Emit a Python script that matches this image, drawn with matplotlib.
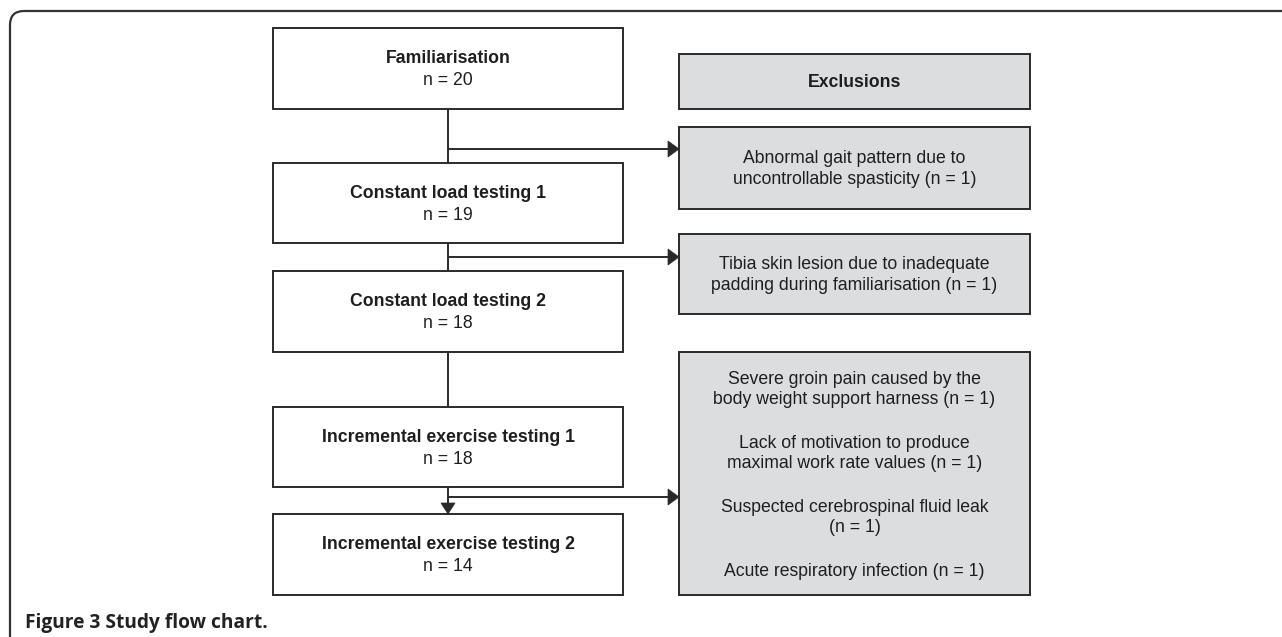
import matplotlib
matplotlib.use("Agg")
import matplotlib.pyplot as plt
from matplotlib.patches import Rectangle, FancyBboxPatch, Polygon

# Flow stages (left column) and participant counts
stages = ["Familiarisation", "Constant load testing 1", "Constant load testing 2",
          "Incremental exercise testing 1", "Incremental exercise testing 2"]
counts = [20, 19, 18, 18, 14]

# Exclusion boxes (right column)
exclusion_header = "Exclusions"
exclusions = [
    ["Abnormal gait pattern due to\nuncontrollable spasticity (n = 1)"],
    ["Tibia skin lesion due to inadequate\npadding during familiarisation (n = 1)"],
    ["Severe groin pain caused by the\nbody weight support harness (n = 1)",
     "Lack of motivation to produce\nmaximal work rate values (n = 1)",
     "Suspected cerebrospinal fluid leak\n(n = 1)",
     "Acute respiratory infection (n = 1)"],
]
caption = "Figure 3 Study flow chart."

# layout (pixels)
W, H = 1282, 637
stage_x = (273, 623)
stage_y = [(28, 109), (163, 243), (271, 352), (407, 487), (514, 595)]
excl_x = (679, 1030)
header_y = (54, 109)
excl_y = [(127, 209), (234, 314), (352, 595)]
arrow_y = [149, 257, 497]

edge = "#2a2a2a"
grey = "#dcdddf"
txt = "#1e1e1e"
font = "Liberation Sans"
fs = 12.7
lw = 1.4
ls = 1.3

fig = plt.figure(figsize=(W / 100, H / 100), dpi=100)
ax = fig.add_axes([0, 0, 1, 1])
ax.set_xlim(0, W)
ax.set_ylim(H, 0)
ax.axis("off")

# outer rounded frame
frame = FancyBboxPatch((10, 11), W + 40, H + 40, boxstyle="round,pad=0,rounding_size=14",
                       fc="none", ec="#333333", lw=1.6)
ax.add_patch(frame)

def box(x0, x1, y0, y1, fc):
    ax.add_patch(Rectangle((x0, y0), x1 - x0, y1 - y0, fc=fc, ec=edge, lw=lw, zorder=2))

cx = (stage_x[0] + stage_x[1]) / 2
ex = (excl_x[0] + excl_x[1]) / 2

# stage boxes
for i, (name, n) in enumerate(zip(stages, counts)):
    y0, y1 = stage_y[i]
    box(stage_x[0], stage_x[1], y0, y1, "white")
    ym = (y0 + y1) / 2
    ax.text(cx, ym - 10, name, ha="center", va="center", fontsize=fs, fontweight="bold",
            family=font, color=txt, zorder=3)
    ax.text(cx, ym + 12, "n = %d" % n, ha="center", va="center", fontsize=fs,
            family=font, color=txt, zorder=3)

# vertical connectors
for i in range(len(stages) - 1):
    ax.plot([cx, cx], [stage_y[i][1], stage_y[i + 1][0]], color=edge, lw=lw, zorder=1,
            solid_capstyle="butt")

# down arrowhead into last stage
tip = stage_y[-1][0]
ax.add_patch(Polygon([(cx - 7, tip - 11), (cx + 7, tip - 11), (cx, tip)], closed=True,
                     fc=edge, ec=edge, lw=0.5, zorder=2))

# exclusions header
box(excl_x[0], excl_x[1], header_y[0], header_y[1], grey)
ax.text(ex, (header_y[0] + header_y[1]) / 2 + 1, exclusion_header, ha="center", va="center",
        fontsize=fs, fontweight="bold", family=font, color=txt, zorder=3)

# exclusion boxes
for (y0, y1), items in zip(excl_y, exclusions):
    box(excl_x[0], excl_x[1], y0, y1, grey)
    if len(items) == 1:
        ax.text(ex, (y0 + y1) / 2 + 1, items[0], ha="center", va="center", fontsize=fs,
                family=font, color=txt, linespacing=ls, zorder=3)
    else:
        step = 64
        start = (y0 + y1) / 2 - step * (len(items) - 1) / 2
        for k, item in enumerate(items):
            yy = start + k * step
            if "\n" not in item:
                yy -= 10
            ax.text(ex, yy + 12, item, ha="center", va="center", fontsize=fs,
                    family=font, color=txt, linespacing=ls, zorder=3)

# horizontal arrows
for y in arrow_y:
    ax.plot([cx, excl_x[0] - 10], [y, y], color=edge, lw=lw, zorder=1, solid_capstyle="butt")
    ax.add_patch(Polygon([(excl_x[0] - 11, y - 8), (excl_x[0] - 11, y + 8), (excl_x[0], y)],
                         closed=True, fc=edge, ec=edge, lw=0.5, zorder=2))

ax.text(25, 623, caption, ha="left", va="center", fontsize=13.8, fontweight="bold",
        family="Open Sans", color="#222222")

fig.savefig("out.png", dpi=100)
